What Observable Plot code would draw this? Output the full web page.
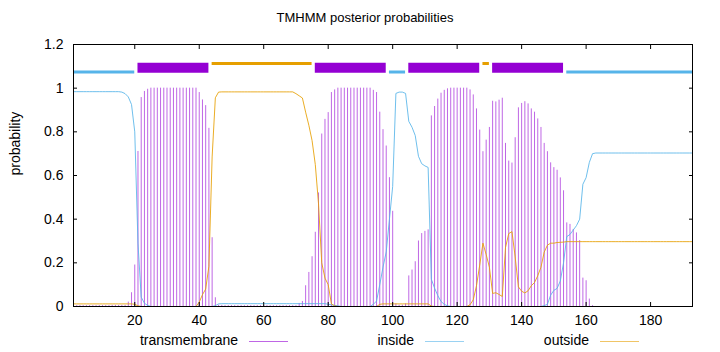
<!DOCTYPE html>
<html>
<head>
<meta charset="utf-8">
<script src="https://cdn.jsdelivr.net/npm/d3@7"></script>
<script src="https://cdn.jsdelivr.net/npm/@observablehq/plot@0.6"></script>
<style>
  body { margin: 0; background: #fff; font-family: "Liberation Sans", Arial, sans-serif; color: #000; }
  #wrap { position: relative; width: 720px; height: 352px; overflow: hidden; background: #fff; }
  #title { position: relative; height: 30px; }
  #title span { position: absolute; left: 365px; top: 10px; transform: translateX(-50%); font-size: 13px; white-space: nowrap; }
  #chart { height: 300px; }
  #chart svg { display: block; }
  #legend { position: relative; height: 22px; font-size: 14px; }
  #legend .lbl { position: absolute; top: 2px; white-space: nowrap; text-align: right; }
  #legend .smp { position: absolute; top: 11px; height: 1px; width: 39px; }
</style>
</head>
<body>
<div id="wrap">
  <div id="title"><span>TMHMM posterior probabilities</span></div>
  <div id="chart"></div>
  <div id="legend"></div>
</div>
<script>
// ---- data ----
// posterior probability per residue (index 0 = residue 1), protein length 193
const tm = [
  0.004,0.004,0.004,0.004,0.004,0.004,0.004,0.004,0.004,0.004,
  0.004,0.004,0.005,0.005,0.005,0.005,0.005,0.02,0.063,0.19,
  0.71,0.957,0.985,0.995,1,1,1,1,1,1,
  1,1,1,1,1,1,1,1,1,0.98,
  0.946,0.92,0.816,0.315,0.04,0.006,0.005,0.004,0.004,0.004,
  0.004,0.004,0.004,0.004,0.004,0.004,0.004,0.004,0.004,0.004,
  0.004,0.004,0.004,0.004,0.004,0.004,0.004,0.004,0.004,0.004,
  0.014,0.023,0.095,0.156,0.228,0.34,0.52,0.79,0.857,0.888,
  0.98,0.992,1,1,1,1,1,1,1,1,
  1,1,1,0.99,0.98,0.89,0.81,0.735,0.59,0.436,
  0.012,0.006,0.006,0.012,0.14,0.167,0.205,0.30,0.334,0.344,
  0.351,0.873,0.916,0.95,0.977,0.99,0.997,1,1,1,
  1,1,1,0.992,0.969,0.905,0.808,0.709,0.762,0.82,
  0.94,0.937,0.945,0.954,0.747,0.666,0.657,0.773,0.91,0.93,
  0.938,0.928,0.905,0.89,0.859,0.82,0.747,0.709,0.658,0.636,
  0.624,0.589,0.53,0.383,0.376,0.353,0.337,0.302,0.13,0.118,
  0.034,0.004,0,0,0,0,0,0,0,0,
  0,0,0,0,0,0,0,0,0,0,
  0,0,0,0,0,0,0,0,0,0,
  0,0,0
];
const inside = [
  0.984,0.984,0.984,0.984,0.984,0.984,0.984,0.984,0.984,0.984,
  0.984,0.984,0.984,0.984,0.984,0.982,0.975,0.96,0.925,0.8,
  0.29,0.043,0.015,0.005,0,0,0,0,0,0,
  0,0,0,0,0,0,0,0,0,0,
  0,0,0,0,0.004,0.012,0.013,0.013,0.013,0.013,
  0.013,0.013,0.013,0.013,0.013,0.013,0.013,0.013,0.013,0.013,
  0.013,0.013,0.013,0.013,0.013,0.013,0.013,0.013,0.013,0.013,
  0.013,0.013,0.013,0.013,0.013,0.013,0.013,0.013,0.013,0.01,
  0.008,0.005,0.003,0,0,0,0,0,0,0,
  0,0,0,0.01,0.025,0.1,0.18,0.25,0.4,0.55,
  0.976,0.982,0.982,0.976,0.848,0.821,0.783,0.688,0.654,0.644,
  0.637,0.125,0.084,0.05,0.023,0.01,0.003,0,0,0,
  0,0,0,0,0,0,0,0,0,0,
  0,0,0,0,0,0,0,0,0,0,
  0,0,0,0,0,0,0.004,0.01,0.052,0.074,
  0.083,0.117,0.2,0.32,0.33,0.35,0.37,0.4,0.56,0.59,
  0.66,0.7,0.703,0.703,0.703,0.703,0.703,0.703,0.703,0.703,
  0.703,0.703,0.703,0.703,0.703,0.703,0.703,0.703,0.703,0.703,
  0.703,0.703,0.703,0.703,0.703,0.703,0.703,0.703,0.703,0.703,
  0.703,0.703,0.703
];
const outside = [
  0.012,0.012,0.012,0.012,0.012,0.012,0.012,0.012,0.012,0.012,
  0.012,0.012,0.012,0.012,0.012,0.012,0.012,0.012,0.012,0.01,
  0.003,0,0,0,0,0,0,0,0,0,
  0,0,0,0,0,0,0,0,0,0.02,
  0.054,0.08,0.184,0.685,0.956,0.982,0.983,0.983,0.983,0.983,
  0.983,0.983,0.983,0.983,0.983,0.983,0.983,0.983,0.983,0.983,
  0.983,0.983,0.983,0.983,0.983,0.983,0.983,0.983,0.983,0.975,
  0.965,0.955,0.89,0.83,0.76,0.65,0.47,0.2,0.13,0.1,
  0.012,0.003,0,0,0,0,0,0,0,0,
  0,0,0,0,0,0.01,0.012,0.012,0.012,0.012,
  0.012,0.012,0.012,0.012,0.012,0.012,0.012,0.012,0.012,0.012,
  0.012,0.002,0,0,0,0,0,0,0,0,
  0,0,0,0.008,0.031,0.095,0.19,0.29,0.238,0.18,
  0.06,0.063,0.055,0.046,0.27,0.334,0.343,0.227,0.09,0.07,
  0.062,0.072,0.095,0.11,0.141,0.18,0.249,0.281,0.29,0.29,
  0.293,0.294,0.295,0.297,0.297,0.297,0.297,0.297,0.297,0.297,
  0.297,0.297,0.297,0.297,0.297,0.297,0.297,0.297,0.297,0.297,
  0.297,0.297,0.297,0.297,0.297,0.297,0.297,0.297,0.297,0.297,
  0.297,0.297,0.297,0.297,0.297,0.297,0.297,0.297,0.297,0.297,
  0.297,0.297,0.297
];
// predicted topology segments
const segStart = [1, 21, 44, 76, 99, 105, 128, 131, 154];
const segEnd   = [20, 43, 75, 98, 104, 127, 130, 153, 193];
const segType  = ["inside","TMhelix","outside","TMhelix","inside","TMhelix","outside","TMhelix","inside"];
// axes
const xTicks = [20, 40, 60, 80, 100, 120, 140, 160, 180];
const yTicks = [0, 0.2, 0.4, 0.6, 0.8, 1, 1.2];
const seriesNames = ["transmembrane", "inside", "outside"];

// ---- styles ----
const colors = { transmembrane: "#9400d3", inside: "#56b4e9", outside: "#e69f00" };
const segStyle = {
  inside:  { level: 1.074, width: 3,  color: colors.inside },
  outside: { level: 1.113, width: 3,  color: colors.outside },
  TMhelix: { level: 1.093, width: 10, color: colors.transmembrane }
};

const residue = tm.map((_, i) => i + 1);
const rows = residue.map((r, i) => ({ r, tm: tm[i], inside: inside[i], outside: outside[i] }));
const segs = segStart.map((s, i) => ({ start: s, end: segEnd[i], type: segType[i] }));

const segMarks = Object.keys(segStyle).map(t =>
  Plot.ruleY(segs.filter(d => d.type === t), {
    y: segStyle[t].level, x1: "start", x2: "end",
    stroke: segStyle[t].color, strokeWidth: segStyle[t].width, strokeLinecap: "butt"
  })
);

const fmt = d => String(+d.toFixed(1));

const chart = Plot.plot({
  width: 720,
  height: 300,
  marginTop: 14,
  marginBottom: 24,
  marginLeft: 73,
  marginRight: 28,
  x: { domain: [1, 193] },
  y: { domain: [0, 1.2] },
  style: { fontFamily: '"Liberation Sans", Arial, sans-serif', fontSize: "14px", background: "#fff", color: "#000", overflow: "visible" },
  marks: [
    Plot.ruleX(rows, { x: "r", y1: 0, y2: "tm", stroke: colors.transmembrane, strokeOpacity: 0.6, strokeWidth: 1 }),
    Plot.line(rows, { x: "r", y: "inside", stroke: colors.inside, strokeWidth: 1, strokeOpacity: 0.85 }),
    Plot.line(rows, { x: "r", y: "outside", stroke: colors.outside, strokeWidth: 1, strokeOpacity: 0.85 }),
    ...segMarks,
    Plot.frame({ stroke: "#000", strokeWidth: 1 }),
    Plot.axisX(xTicks, { anchor: "bottom", tickSize: -4, tickPadding: 13, tickFormat: fmt, label: null }),
    Plot.axisX(xTicks, { anchor: "top", tickSize: -4, tickFormat: () => "", label: null }),
    Plot.axisY(yTicks, { anchor: "left", tickSize: -4, tickPadding: 14, tickFormat: fmt, label: null }),
    Plot.axisY(yTicks, { anchor: "right", tickSize: -4, tickFormat: () => "", label: null }),
    Plot.text(["probability"], { frameAnchor: "left", dx: -58, rotate: -90, text: d => d, fontSize: 14 })
  ]
});
document.getElementById("chart").appendChild(chart);

// ---- legend (gnuplot-style key below the plot) ----
const legend = document.getElementById("legend");
const labelEnds = [238, 414, 589];
seriesNames.forEach((name, i) => {
  const lbl = document.createElement("span");
  lbl.className = "lbl";
  lbl.textContent = name;
  lbl.style.right = (720 - labelEnds[i]) + "px";
  legend.appendChild(lbl);
  const smp = document.createElement("div");
  smp.className = "smp";
  smp.style.left = (labelEnds[i] + 11) + "px";
  smp.style.background = colors[name];
  smp.style.opacity = 0.6;
  legend.appendChild(smp);
});
</script>
</body>
</html>
